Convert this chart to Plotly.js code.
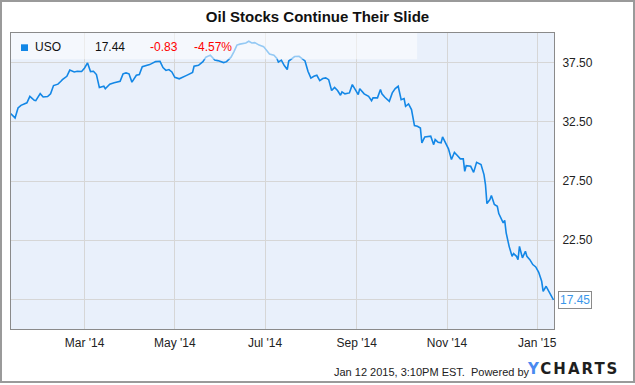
<!DOCTYPE html>
<html>
<head>
<meta charset="utf-8">
<script src="https://cdn.plot.ly/plotly-3.0.1.min.js"></script>
<style>
  html, body { margin: 0; padding: 0; background: #fff; }
  #wrap { position: relative; width: 635px; height: 385px; }
  #chart { width: 635px; height: 385px; }
  #frame { position: absolute; left: 0; top: 0; width: 635px; height: 383px;
           box-sizing: border-box; border: 2px solid #9a9a9a; pointer-events: none; }
</style>
</head>
<body>
<div id="wrap"><div id="chart"></div><div id="frame"></div></div>
<script>
const dates = [
'2014-01-10','2014-01-13','2014-01-15','2014-01-17','2014-01-21','2014-01-23','2014-01-26','2014-01-27','2014-01-30','2014-02-01',
'2014-02-04','2014-02-06','2014-02-08','2014-02-11','2014-02-13','2014-02-14','2014-02-17','2014-02-19','2014-02-22','2014-02-24',
'2014-02-27','2014-03-01','2014-03-03','2014-03-05','2014-03-07','2014-03-09','2014-03-11','2014-03-14','2014-03-15','2014-03-18',
'2014-03-21','2014-03-25','2014-03-27','2014-03-29','2014-03-31','2014-04-02','2014-04-05','2014-04-07','2014-04-09','2014-04-12',
'2014-04-14','2014-04-18','2014-04-21','2014-04-23','2014-04-25','2014-04-27','2014-04-29','2014-05-01','2014-05-04','2014-05-09',
'2014-05-13','2014-05-14','2014-05-17','2014-05-20','2014-05-22','2014-05-25','2014-05-28','2014-05-30','2014-06-03','2014-06-05',
'2014-06-08','2014-06-10','2014-06-12','2014-06-14','2014-06-18','2014-06-20','2014-06-22','2014-06-24','2014-06-27','2014-06-30',
'2014-07-02','2014-07-04','2014-07-07','2014-07-09','2014-07-10','2014-07-12','2014-07-14','2014-07-16','2014-07-17','2014-07-19',
'2014-07-21','2014-07-24','2014-07-26','2014-07-28','2014-07-30','2014-08-01','2014-08-03','2014-08-05','2014-08-07','2014-08-09',
'2014-08-11','2014-08-13','2014-08-15','2014-08-17','2014-08-19','2014-08-21','2014-08-22','2014-08-24','2014-08-27','2014-08-29',
'2014-08-31','2014-09-02','2014-09-03','2014-09-06','2014-09-09','2014-09-11','2014-09-12','2014-09-15','2014-09-17','2014-09-18',
'2014-09-20','2014-09-23','2014-09-25','2014-09-27','2014-09-29','2014-10-01','2014-10-03','2014-10-04','2014-10-06','2014-10-08',
'2014-10-10','2014-10-12','2014-10-14','2014-10-15','2014-10-17','2014-10-19','2014-10-21','2014-10-23','2014-10-24','2014-10-26',
'2014-10-28','2014-10-29','2014-10-31','2014-11-02','2014-11-04','2014-11-06','2014-11-08','2014-11-10','2014-11-12','2014-11-13',
'2014-11-14','2014-11-17','2014-11-19','2014-11-20','2014-11-21','2014-11-24','2014-11-26','2014-11-27','2014-11-28','2014-11-30',
'2014-12-01','2014-12-03','2014-12-05','2014-12-06','2014-12-09','2014-12-10','2014-12-11','2014-12-13','2014-12-15','2014-12-16',
'2014-12-18','2014-12-19','2014-12-20','2014-12-21','2014-12-22','2014-12-24','2014-12-25','2014-12-27','2014-12-29','2014-12-31',
'2015-01-02','2015-01-04','2015-01-05','2015-01-07','2015-01-09','2015-01-12'
];
const usoPrices = [
33.19,32.83,33.67,33.89,34.10,34.65,34.32,34.29,34.88,34.60,
34.63,34.86,35.56,35.68,35.92,36.06,36.34,36.87,36.71,36.77,
36.75,37.05,37.47,36.74,36.77,36.49,35.39,35.50,35.29,35.68,
35.79,35.92,36.55,36.63,36.55,35.85,36.43,36.49,37.15,37.25,
37.33,37.58,37.61,37.08,36.84,36.91,36.71,36.26,36.13,36.42,
36.66,37.19,37.27,37.58,37.96,38.13,37.71,37.67,37.50,37.58,
37.96,38.43,38.98,39.06,39.16,39.30,39.16,39.19,38.98,38.85,
38.56,38.22,38.13,37.86,37.54,37.71,37.25,36.91,37.63,37.84,
38.01,38.03,37.84,37.64,36.77,36.19,36.34,36.43,35.98,36.15,
36.21,36.06,35.14,35.41,35.14,34.74,35.03,34.86,34.94,35.64,
35.22,34.80,35.30,34.86,34.65,34.29,34.52,34.52,35.22,34.86,
34.57,34.23,34.94,35.30,35.50,34.37,34.46,33.81,34.01,33.53,
32.18,32.12,31.98,30.72,31.22,31.28,31.28,30.57,31.00,30.77,
30.72,31.22,30.72,30.21,29.31,29.92,29.65,29.37,29.37,28.32,
28.80,28.74,28.23,28.61,29.08,28.89,28.04,27.20,25.59,25.93,
26.27,25.51,25.36,24.75,23.96,24.18,23.12,21.98,21.14,21.37,
21.14,20.86,21.98,21.48,21.01,21.56,21.14,20.86,20.44,20.24,
19.79,19.03,18.18,18.61,18.10,17.45
];
const yTickVals = [17.5, 22.5, 27.5, 32.5, 37.5];
const yTickText = ['', '22.50', '27.50', '32.50', '37.50'];
const legendTexts = ['USO', '17.44', '-0.83', '-4.57%'];
const legendColors = ['#111111', '#111111', '#ff0000', '#ff0000'];
const legendX = [0.041, 0.1505, 0.2529, 0.3328];
const lastLabel = '17.45';
const chartTitle = 'Oil Stocks Continue Their Slide';
const footerText = 'Jan 12 2015, 3:10PM EST.  Powered by';

const FONT = 'Liberation Sans, Arial, sans-serif';
const LINE = '#1387e6';

const lastDate = dates[dates.length - 1];
const lastVal = usoPrices[usoPrices.length - 1];

const annotations = legendTexts.map((t, i) => ({
  xref: 'paper', yref: 'paper', x: legendX[i], y: 0.9537,
  xanchor: 'left', yanchor: 'middle', showarrow: false,
  text: t, font: {family: FONT, size: 12, color: legendColors[i]}
}));
annotations.push({
  xref: 'x', yref: 'y', x: lastDate, y: lastVal,
  xanchor: 'left', yanchor: 'middle', xshift: 4, showarrow: false,
  text: lastLabel, font: {family: FONT, size: 12, color: '#3a97ea'},
  bgcolor: '#ffffff', bordercolor: '#8a8a8a', borderwidth: 1, borderpad: 1
});
annotations.push({
  xref: 'paper', yref: 'paper', x: 0.5906, y: -0.1463,
  xanchor: 'left', yanchor: 'middle', showarrow: false,
  text: footerText, font: {family: FONT, size: 11, color: '#222222'}
});
annotations.push({
  xref: 'paper', yref: 'paper', x: 0.9466, y: -0.1351,
  xanchor: 'left', yanchor: 'middle', showarrow: false,
  text: '<span style="letter-spacing:2px"><span style="color:#4a8af0">Y</span>CHARTS</span>',
  font: {family: 'DejaVu Sans, sans-serif', size: 15, color: '#1e1e1e', weight: 'bold'}
});

const layout = {
  width: 635, height: 385,
  margin: {l: 11, r: 81, t: 33, b: 56},
  paper_bgcolor: '#ffffff',
  plot_bgcolor: '#e9f0fb',
  showlegend: false,
  title: {
    text: '<b>' + chartTitle + '</b>',
    x: 0.5, xref: 'container', y: 0.956, yref: 'container', yanchor: 'middle',
    font: {family: FONT, size: 15, color: '#111111'}
  },
  xaxis: {
    type: 'date',
    range: ['2014-01-10 06:00', '2015-01-12 08:00'],
    tick0: '2014-03-01', dtick: 'M2', tickformat: "%b '%y",
    showgrid: true, gridcolor: '#d6d6d6', gridwidth: 1,
    showline: true, linecolor: '#8a8a8a', linewidth: 1, mirror: true,
    ticks: '', zeroline: false,
    tickfont: {family: FONT, size: 12, color: '#222222'},
    ticklabelstandoff: 3
  },
  yaxis: {
    range: [15, 40], side: 'right',
    tickvals: yTickVals, ticktext: yTickText,
    showgrid: true, gridcolor: '#d6d6d6', gridwidth: 1,
    showline: true, linecolor: '#8a8a8a', linewidth: 1, mirror: true,
    ticks: '', zeroline: false,
    tickfont: {family: FONT, size: 12, color: '#222222'},
    ticklabelstandoff: 5
  },
  shapes: [
    {type: 'rect', xref: 'paper', yref: 'paper', x0: 0, x1: 0.748, y0: 0.911, y1: 1,
     fillcolor: 'rgba(255,255,255,0.55)', line: {width: 0}, layer: 'above'},
    {type: 'rect', xref: 'paper', yref: 'paper', x0: 0.0184, x1: 0.0313, y0: 0.9392, y1: 0.9618,
     fillcolor: LINE, line: {width: 0}, layer: 'above'},
    {type: 'path', xref: 'x', yref: 'y', xsizemode: 'pixel', ysizemode: 'pixel',
     xanchor: lastDate, yanchor: lastVal,
     path: 'M 6 5 L 1 0 L 6 -5', fillcolor: 'rgba(0,0,0,0)',
     line: {color: '#8a8a8a', width: 1}, layer: 'above'}
  ],
  annotations: annotations
};

const trace = {
  type: 'scatter', mode: 'lines',
  x: dates, y: usoPrices,
  line: {color: LINE, width: 1.6},
  hoverinfo: 'skip'
};

Plotly.newPlot('chart', [trace], layout, {staticPlot: true, displayModeBar: false});
</script>
</body>
</html>
